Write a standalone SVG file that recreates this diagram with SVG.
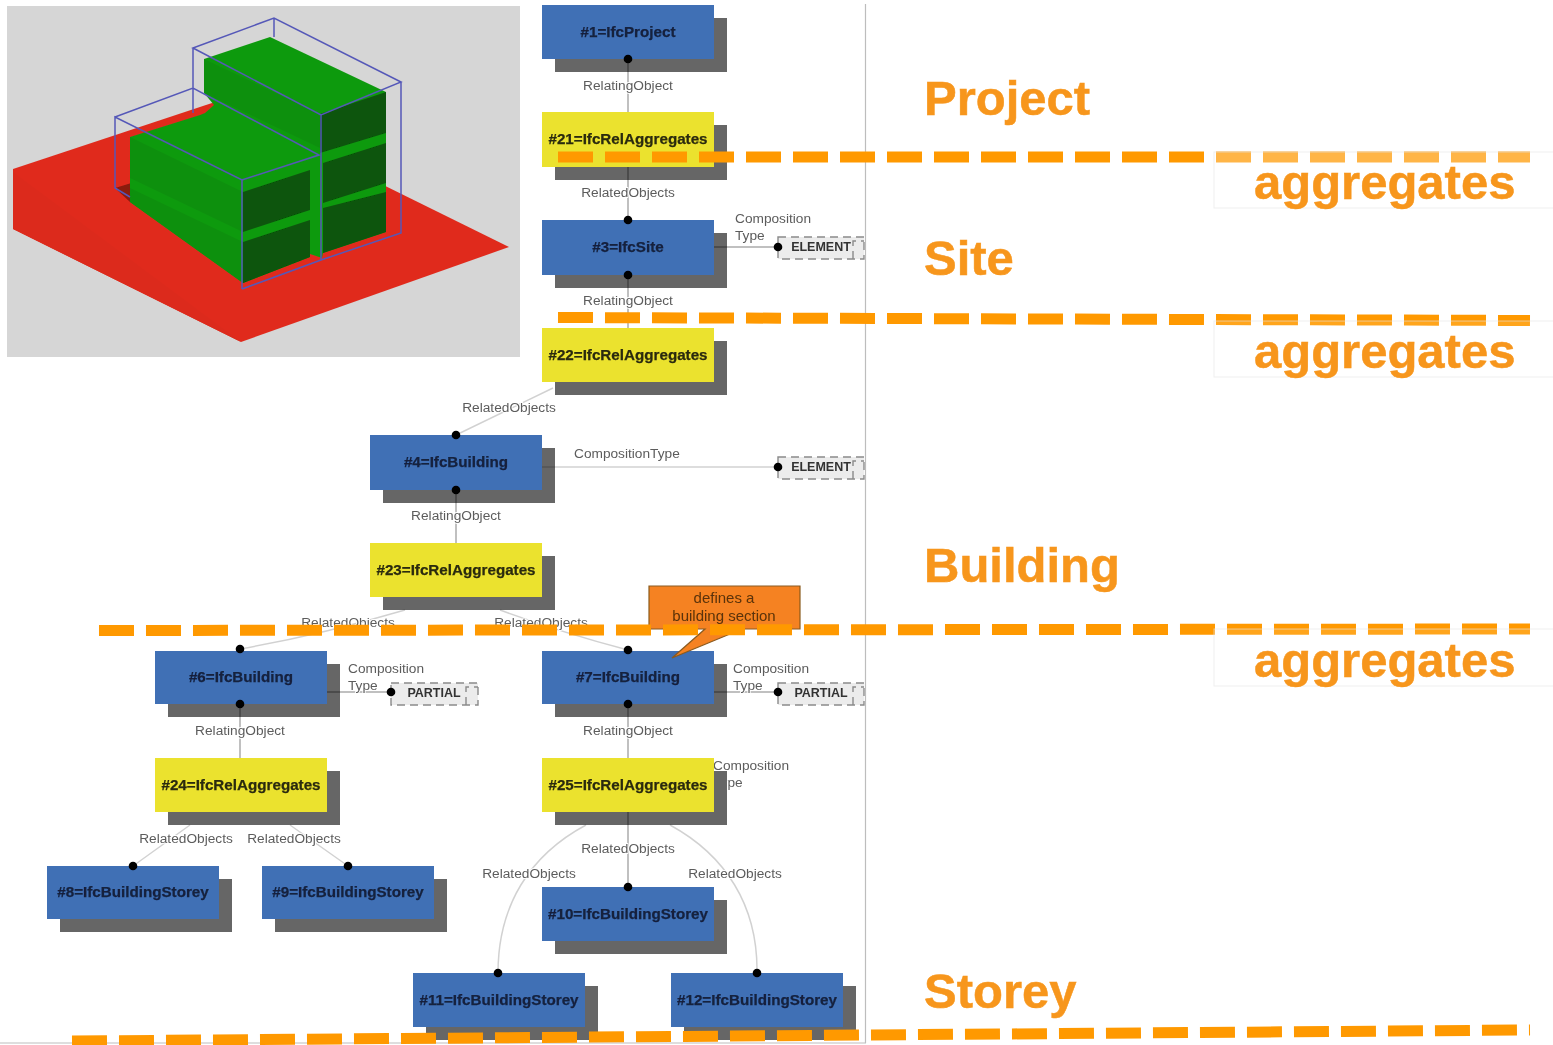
<svg xmlns="http://www.w3.org/2000/svg" width="1553" height="1045" viewBox="0 0 1553 1045">
<defs>
<filter id="soft" filterUnits="userSpaceOnUse" x="0" y="0" width="1553" height="1045"><feGaussianBlur stdDeviation="0.65"/></filter>
<filter id="softer" filterUnits="userSpaceOnUse" x="0" y="0" width="1553" height="1045"><feGaussianBlur stdDeviation="0.4"/></filter>
</defs>
<style>
text{font-family:"Liberation Sans",Arial,sans-serif}
.sh{fill:#666}
.blue{fill:#3f6fb5}
.yel{fill:#ebe22d}
.nt{font-size:15.2px;font-weight:bold;text-anchor:middle;fill:#14203c;stroke:#14203c;stroke-width:.25px}
.yt{fill:#2a2a10;stroke:#2a2a10}
.lb{font-size:13.7px;fill:#5c5c5c;paint-order:stroke;stroke:#fff;stroke-width:2px;stroke-linejoin:round}
.mid{text-anchor:middle}
.plain{stroke:none}
.ln{fill:none;stroke:#000;stroke-opacity:.33;stroke-width:1.5}
.ln2{fill:none;stroke:#000;stroke-opacity:.18;stroke-width:1.5}
.dot{fill:#000}
.tag{fill:#ececec;stroke:#8a8a8a;stroke-width:1.4;stroke-dasharray:8 5}
.tagl{fill:none;stroke:#8a8a8a;stroke-width:1.4;stroke-dasharray:8 5}
.tt{font-size:12.5px;font-weight:bold;fill:#333;text-anchor:middle}
.dash{fill:none;stroke:#ff9900;stroke-width:11;stroke-dasharray:35 12}
.big{font-size:49px;font-weight:bold;fill:#f7961c;stroke:#f7961c;stroke-width:.5px}
.veil{fill:#fff;stroke:#e4e4e4;stroke-width:1;stroke-opacity:.6}
.wire{fill:none;stroke:#5558b8;stroke-width:1.5}
</style>

<rect width="1553" height="1045" fill="#fff"/>

<g filter="url(#soft)">
<g id="model">
<rect x="7" y="6" width="513" height="351" fill="#d6d6d6"/>
<polygon points="13,169 215,102 509,247 241,342 13,229" fill="#e02b1e"/>
<polygon points="13,172 241,342 13,229" fill="#dc2a1c"/>
<polygon points="115,188 138,181 130,186 130,202" fill="#8a1a10"/>
<polygon points="204,59 270,37 386,92 386,232 323,253 322,258 310,254 310,257 243,283 130,202 130,137 200,115 205,113 214,105 204,93" fill="#119a11"/>
<polygon points="204,59 320,114 320,148 204,93" fill="#0e9010"/>
<polygon points="130,137 243,192 243,283 130,202" fill="#0e9010"/>
<polygon points="130,178 243,232 243,242 130,188" fill="#119a11"/>
<polygon points="320,114 386,92 386,133 320,153" fill="#075507"/>
<polygon points="243,192 310,170 310,210 243,232" fill="#075507"/>
<polygon points="243,242 310,220 310,257 243,283" fill="#075507"/>
<polygon points="323,163 386,143 386,183 323,203" fill="#075507"/>
<polygon points="323,208 386,192 386,232 323,253" fill="#075507"/>
<path class="wire" d="M193,48 L274,18 L401,82 L321,115 Z M274,18 V37 M193,48 V113 M401,82 V233 L321,260 L242,289 M321,115 V260 M115,117 L193,88 L319,155 L242,180 L115,117 V188 L130,197 M242,180 V289"/>
</g>

<g id="n1"><rect class="sh" x="555" y="18" width="172" height="54"/><rect class="blue" x="542" y="5" width="172" height="54"/><text class="nt" x="628" y="37">#1=IfcProject</text></g>
<g id="n21"><rect class="sh" x="555" y="125" width="172" height="55"/><rect class="yel" x="542" y="112" width="172" height="55"/><text class="nt yt" x="628" y="144">#21=IfcRelAggregates</text></g>
<g id="n3"><rect class="sh" x="555" y="233" width="172" height="55"/><rect class="blue" x="542" y="220" width="172" height="55"/><text class="nt" x="628" y="252">#3=IfcSite</text></g>
<g id="n22"><rect class="sh" x="555" y="341" width="172" height="54"/><rect class="yel" x="542" y="328" width="172" height="54"/><text class="nt yt" x="628" y="360">#22=IfcRelAggregates</text></g>
<g id="n4"><rect class="sh" x="383" y="448" width="172" height="55"/><rect class="blue" x="370" y="435" width="172" height="55"/><text class="nt" x="456" y="467">#4=IfcBuilding</text></g>
<g id="n23"><rect class="sh" x="383" y="556" width="172" height="54"/><rect class="yel" x="370" y="543" width="172" height="54"/><text class="nt yt" x="456" y="575">#23=IfcRelAggregates</text></g>
<g id="n6"><rect class="sh" x="168" y="664" width="172" height="53"/><rect class="blue" x="155" y="651" width="172" height="53"/><text class="nt" x="241" y="682">#6=IfcBuilding</text></g>
<g id="n7"><rect class="sh" x="555" y="664" width="172" height="53"/><rect class="blue" x="542" y="651" width="172" height="53"/><text class="nt" x="628" y="682">#7=IfcBuilding</text></g>
<g id="n24"><rect class="sh" x="168" y="771" width="172" height="54"/><rect class="yel" x="155" y="758" width="172" height="54"/><text class="nt yt" x="241" y="790">#24=IfcRelAggregates</text></g>
<g id="n25"><text class="lb plain" x="713" y="770">Composition</text><text class="lb plain" x="713" y="787">Type</text><rect class="sh" x="555" y="771" width="172" height="54"/><rect class="yel" x="542" y="758" width="172" height="54"/><text class="nt yt" x="628" y="790">#25=IfcRelAggregates</text></g>
<g id="n8"><rect class="sh" x="60" y="879" width="172" height="53"/><rect class="blue" x="47" y="866" width="172" height="53"/><text class="nt" x="133" y="897">#8=IfcBuildingStorey</text></g>
<g id="n9"><rect class="sh" x="275" y="879" width="172" height="53"/><rect class="blue" x="262" y="866" width="172" height="53"/><text class="nt" x="348" y="897">#9=IfcBuildingStorey</text></g>
<g id="n10"><rect class="sh" x="555" y="900" width="172" height="54"/><rect class="blue" x="542" y="887" width="172" height="54"/><text class="nt" x="628" y="919">#10=IfcBuildingStorey</text></g>
<g id="n11"><rect class="sh" x="426" y="986" width="172" height="54"/><rect class="blue" x="413" y="973" width="172" height="54"/><text class="nt" x="499" y="1005">#11=IfcBuildingStorey</text></g>
<g id="n12"><rect class="sh" x="684" y="986" width="172" height="54"/><rect class="blue" x="671" y="973" width="172" height="54"/><text class="nt" x="757" y="1005">#12=IfcBuildingStorey</text></g>

<g id="connectors">
<path class="ln" d="M628,59 V112 M628,167 V220 M628,275 V328 M456,490 V543 M240,704 V758 M628,704 V758 M628,812 V887"/>
<path class="ln2" d="M553,388 L456,435 M405,610 Q320,635 240,649 M500,610 Q560,632 628,650 M190,825 L133,866 M290,825 L348,866"/>
<path class="ln2" d="M586,825 C530,855 498,905 498,973 M670,825 C725,855 758,905 757,973"/>
<path class="ln" d="M714,247 H778 M327,692 H391 M714,692 H778"/>
<path class="ln2" d="M542,467 H778"/>
<g class="dot">
<circle cx="628" cy="59" r="4.3"/><circle cx="628" cy="220" r="4.3"/><circle cx="628" cy="275" r="4.3"/>
<circle cx="456" cy="435" r="4.3"/><circle cx="456" cy="490" r="4.3"/>
<circle cx="240" cy="649" r="4.3"/><circle cx="240" cy="704" r="4.3"/>
<circle cx="628" cy="650" r="4.3"/><circle cx="628" cy="704" r="4.3"/>
<circle cx="133" cy="866" r="4.3"/><circle cx="348" cy="866" r="4.3"/>
<circle cx="628" cy="887" r="4.3"/><circle cx="498" cy="973" r="4.3"/><circle cx="757" cy="973" r="4.3"/>
</g>
</g>

<g id="tag-site"><rect class="tag" x="778" y="237" width="86" height="22"/><path class="tagl" d="M853,259 V241 H864"/><circle class="dot" cx="778" cy="247" r="4.3"/><text class="tt" x="821" y="251">ELEMENT</text></g>
<g id="tag-building"><rect class="tag" x="778" y="457" width="86" height="22"/><path class="tagl" d="M853,479 V461 H864"/><circle class="dot" cx="778" cy="467" r="4.3"/><text class="tt" x="821" y="471">ELEMENT</text></g>
<g id="tag-b6"><rect class="tag" x="391" y="683" width="87" height="22"/><path class="tagl" d="M466,705 V687 H478"/><circle class="dot" cx="391" cy="692" r="4.3"/><text class="tt" x="434" y="697">PARTIAL</text></g>
<g id="tag-b7"><rect class="tag" x="778" y="683" width="86" height="22"/><path class="tagl" d="M853,705 V687 H864"/><circle class="dot" cx="778" cy="692" r="4.3"/><text class="tt" x="821" y="697">PARTIAL</text></g>

<g id="edge-labels">
<text class="lb mid" x="628" y="90">RelatingObject</text>
<text class="lb mid" x="628" y="197">RelatedObjects</text>
<text class="lb mid" x="628" y="305">RelatingObject</text>
<text class="lb mid" x="509" y="412">RelatedObjects</text>
<text class="lb mid" x="456" y="520">RelatingObject</text>
<text class="lb mid" x="348" y="627">RelatedObjects</text>
<text class="lb mid" x="541" y="627">RelatedObjects</text>
<text class="lb mid" x="240" y="735">RelatingObject</text>
<text class="lb mid" x="628" y="735">RelatingObject</text>
<text class="lb mid" x="186" y="843">RelatedObjects</text>
<text class="lb mid" x="294" y="843">RelatedObjects</text>
<text class="lb mid" x="628" y="853">RelatedObjects</text>
<text class="lb mid" x="529" y="878">RelatedObjects</text>
<text class="lb mid" x="735" y="878">RelatedObjects</text>
<text class="lb" x="735" y="223">Composition</text>
<text class="lb" x="735" y="240">Type</text>
<text class="lb" x="574" y="458">CompositionType</text>
<text class="lb" x="348" y="673">Composition</text>
<text class="lb" x="348" y="690">Type</text>
<text class="lb" x="733" y="673">Composition</text>
<text class="lb" x="733" y="690">Type</text>
</g>

<g id="callout">
<path d="M649,586 H800 V629 H742 L672,658 L705,629 H649 Z" fill="#f58220" stroke="#8a5a20" stroke-width="1.2"/>
<text class="mid" x="724" y="603" font-size="15" fill="#5a3208">defines a</text>
<text class="mid" x="724" y="621" font-size="15" fill="#5a3208">building section</text>
</g>

<path d="M865.5,4 V1043 M0,1043 H866" fill="none" stroke="#bdbdbd" stroke-width="1.2"/>
</g>

<g filter="url(#softer)">
<path class="dash" d="M558,157 H1530"/>
<path class="dash" d="M558,317.500 L1530,320.500"/>
<path class="dash" d="M99,630.500 L1530,629"/>
<path class="dash" d="M72,1041 L1530,1030"/>

<rect class="veil" style="fill-opacity:.28" x="1214" y="152" width="345" height="56"/>
<rect class="veil" style="fill-opacity:.12" x="1214" y="321" width="345" height="56"/>
<rect class="veil" style="fill-opacity:.12" x="1214" y="629" width="345" height="57"/>

<text class="big" x="924" y="115">Project</text>
<text class="big" x="924" y="275">Site</text>
<text class="big" x="924" y="582">Building</text>
<text class="big" x="924" y="1008">Storey</text>
<text class="big" x="1254" y="199">aggregates</text>
<text class="big" x="1254" y="368">aggregates</text>
<text class="big" x="1254" y="677">aggregates</text>
</g>
</svg>
